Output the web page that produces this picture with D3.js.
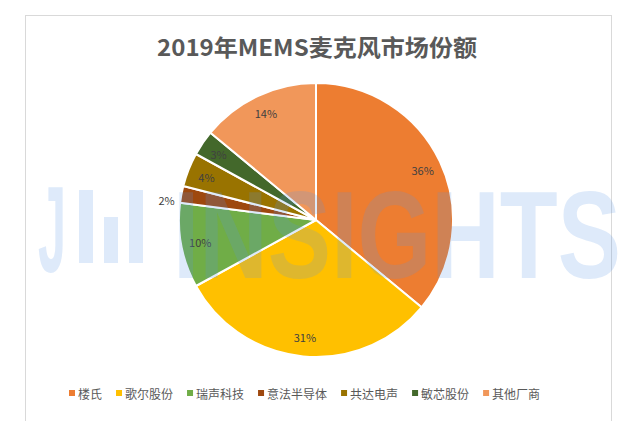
<!DOCTYPE html>
<html><head><meta charset="utf-8">
<script src="https://cdn.jsdelivr.net/npm/d3@7"></script>
<style>
html,body{margin:0;padding:0;background:#fff;}
svg{display:block;font-family:"Noto Sans CJK SC","Noto Sans",sans-serif;}
</style></head>
<body>
<svg id="c" width="640" height="421"></svg>
<script>
const categories = ["楼氏","歌尔股份","瑞声科技","意法半导体","共达电声","敏芯股份","其他厂商"];
const values = [36,31,10,2,4,3,14];
const colors = ["#ED7D31","#FFC000","#70AD47","#9E480E","#997300","#43682B","#F1975A"];
const title = "2019年MEMS麦克风市场份额";

const svg = d3.select("#c");
svg.append("rect").attr("x",0).attr("y",0).attr("width",640).attr("height",421).attr("fill","#fff");
svg.append("rect").attr("x",25.5).attr("y",15.5).attr("width",586).attr("height",420)
  .attr("fill","#fff").attr("stroke","#d9d9d9").attr("stroke-width",1);

svg.append("text").attr("x",317).attr("y",56).attr("text-anchor","middle")
  .attr("font-size",23).attr("font-weight","bold").attr("fill","#595959")
  .attr("textLength",320).attr("lengthAdjust","spacingAndGlyphs").text(title);

const cx = 316, cy = 220, R = 137;
const g = svg.append("g").attr("transform",`translate(${cx},${cy})`);
const pie = d3.pie().sort(null).value(d=>d)(values);
const arc = d3.arc().innerRadius(0).outerRadius(R);
g.selectAll("path").data(pie).join("path")
  .attr("d",arc).attr("fill",(d,i)=>colors[i])
  .attr("stroke","#fff").attr("stroke-width",2).attr("stroke-linejoin","round");

const total = d3.sum(values);
g.selectAll("text.lbl").data(pie).join("text").attr("class","lbl")
  .each(function(d){
    const a = (d.startAngle+d.endAngle)/2;
    const small = d.value < 3;
    const r = small ? R*1.11 : R*0.86;
    d3.select(this).attr("x", r*Math.sin(a)).attr("y", -r*Math.cos(a) + (small?8:0));
  })
  .attr("text-anchor","middle").attr("dominant-baseline","central")
  .attr("font-size",11).attr("fill","#404040")
  .text(d=>Math.round(d.value/total*100)+"%");

// watermark
const wm = svg.append("g").attr("fill","rgb(90,150,230)").attr("fill-opacity",0.2);
wm.append("text").attr("x",38).attr("y",272).attr("font-family","Liberation Sans, Arial, sans-serif")
  .attr("font-weight","bold").attr("font-size",122).attr("textLength",28).attr("lengthAdjust","spacingAndGlyphs").text("J");
wm.append("rect").attr("x",79).attr("y",190).attr("width",14).attr("height",73);
wm.append("rect").attr("x",104).attr("y",217).attr("width",14).attr("height",46);
wm.append("rect").attr("x",129).attr("y",190).attr("width",14).attr("height",73);
wm.append("text").attr("x",173).attr("y",278).attr("font-family","Liberation Sans, Arial, sans-serif")
  .attr("font-weight","bold").attr("font-size",124).attr("textLength",448).attr("lengthAdjust","spacingAndGlyphs").text("INSIGHTS");

// legend
const lg = svg.append("g");
let x = 69;
categories.forEach((c,i)=>{
  lg.append("rect").attr("x",x).attr("y",390).attr("width",6).attr("height",6).attr("fill",colors[i]);
  const t = lg.append("text").attr("x",x+9).attr("y",393).attr("dominant-baseline","central")
    .attr("font-size",12).attr("fill","#595959").text(c);
  x += 9 + t.node().getComputedTextLength() + 14;
});
</script>
</body></html>
